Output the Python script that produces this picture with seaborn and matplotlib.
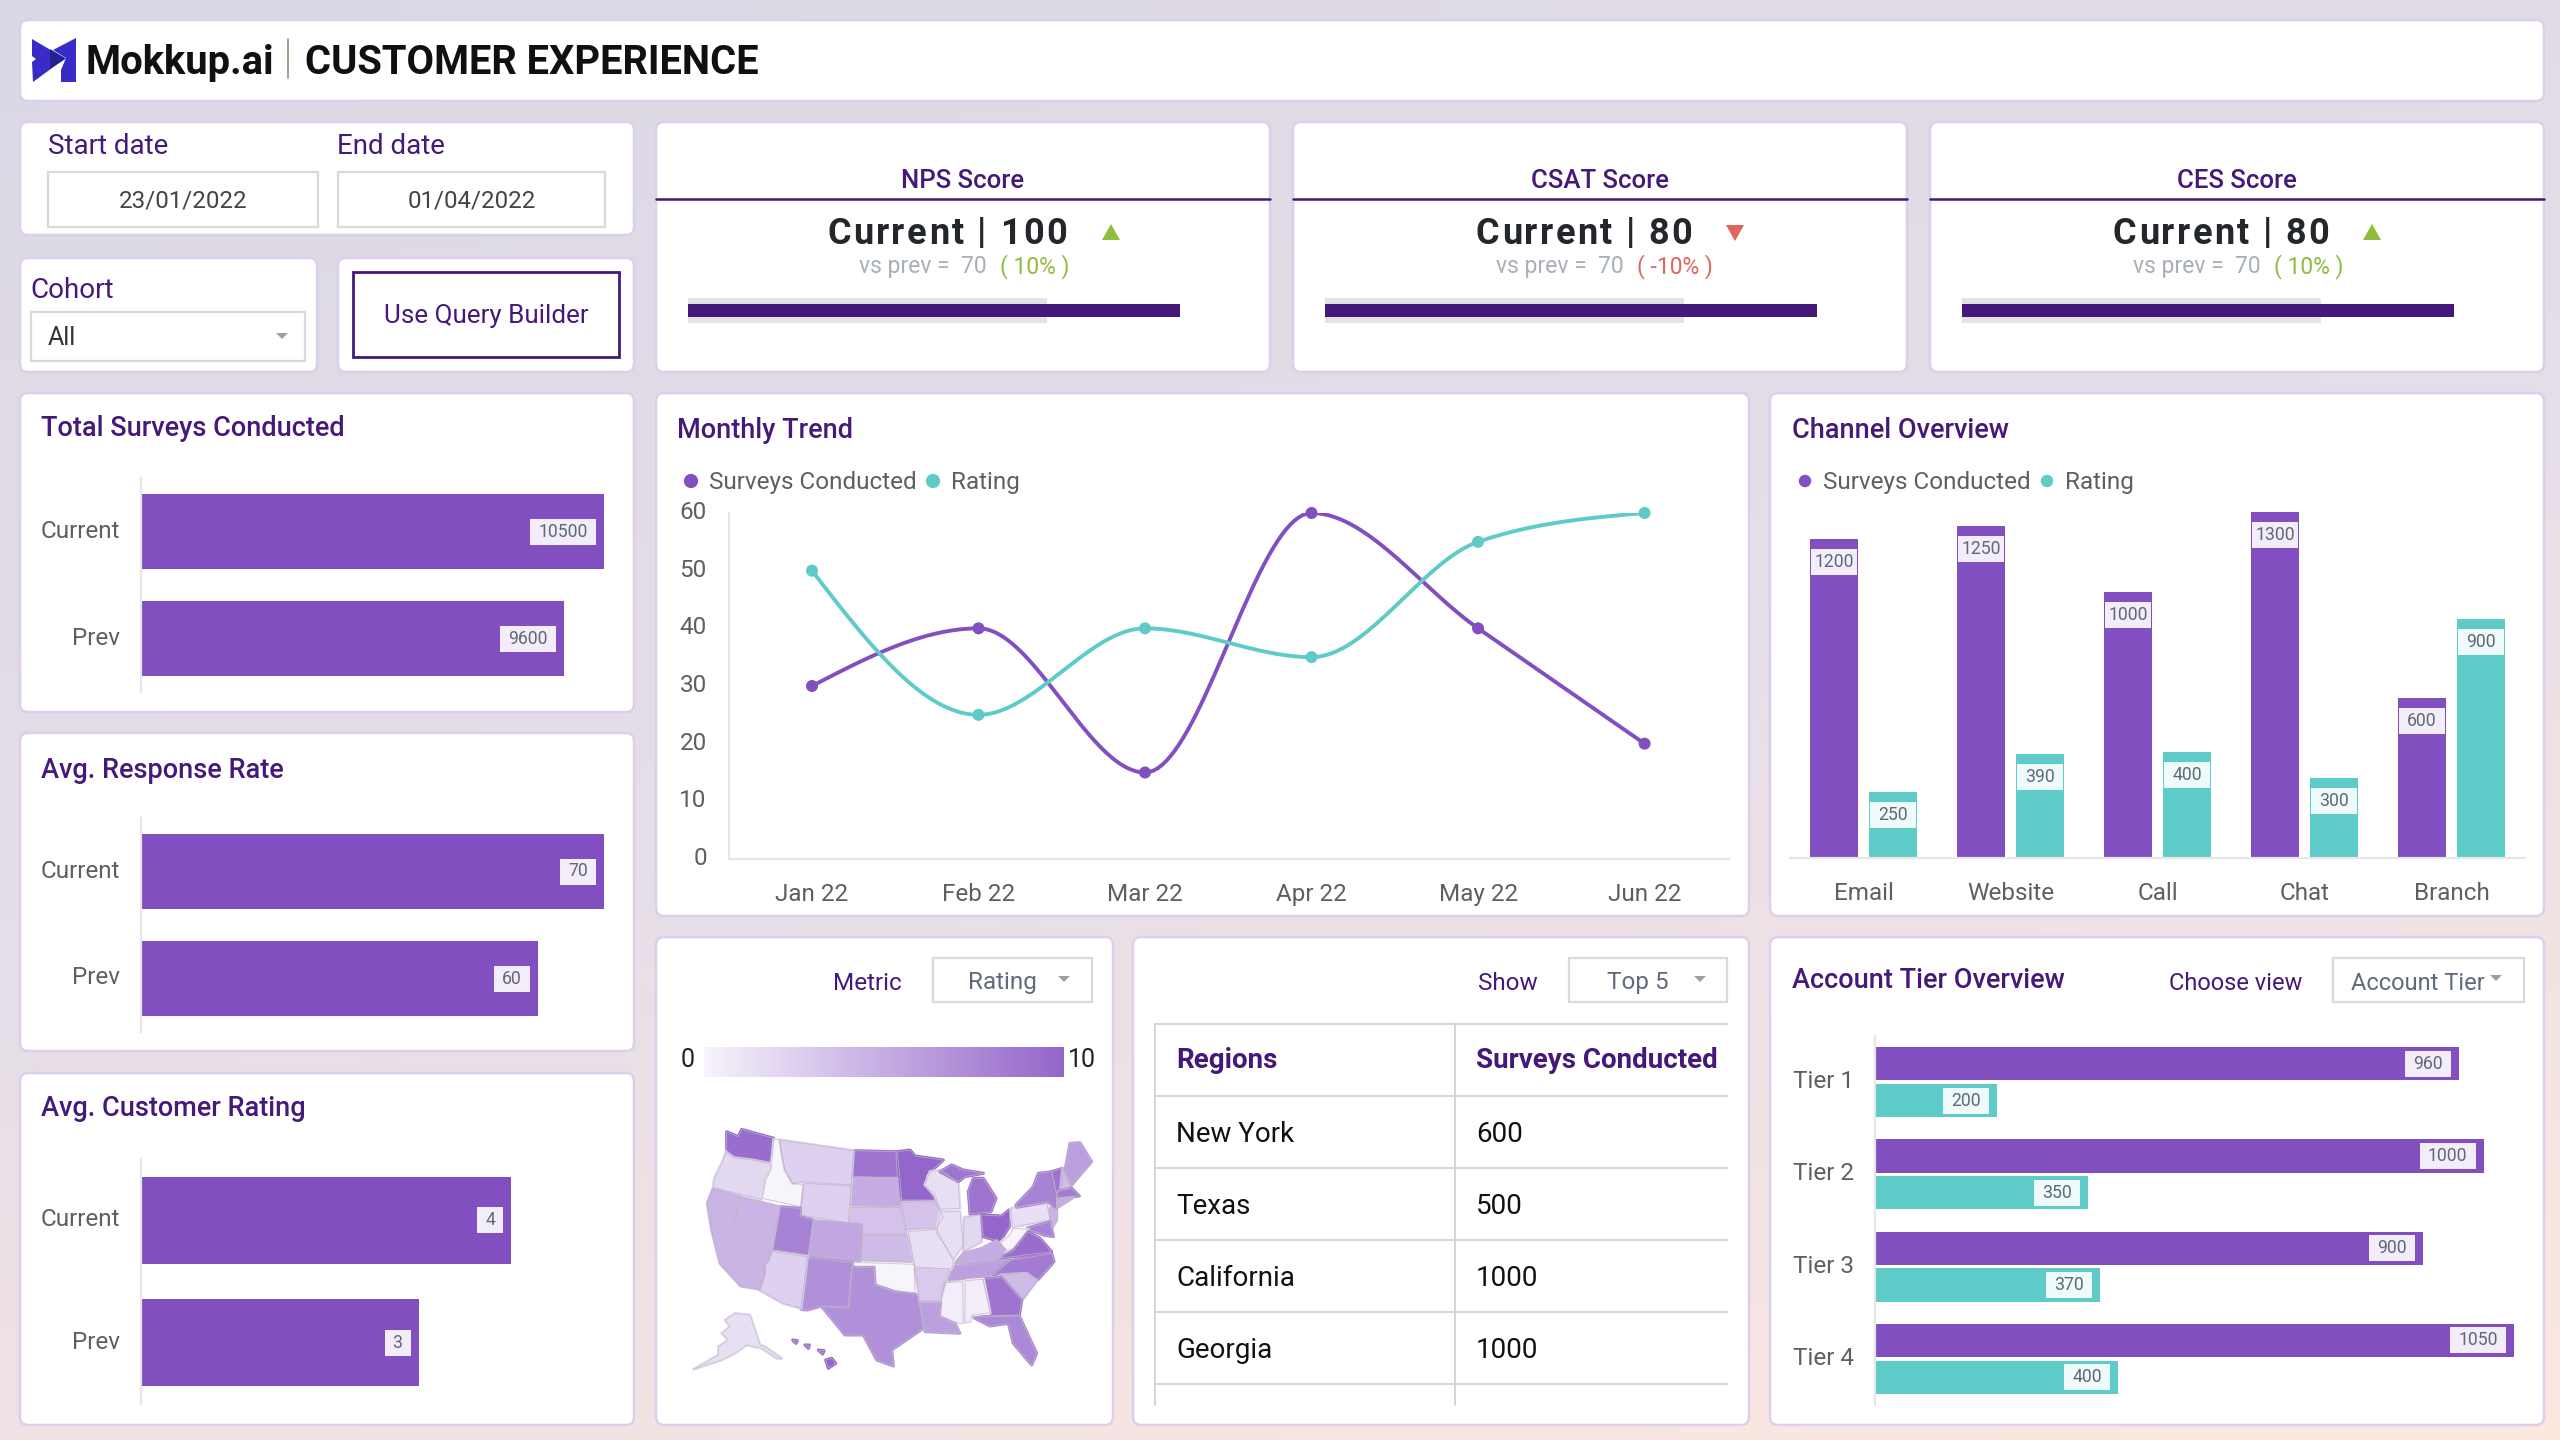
import numpy as np
import pandas as pd
import matplotlib
matplotlib.use("Agg")
import matplotlib.pyplot as plt
import seaborn as sns
from matplotlib.collections import PolyCollection
from matplotlib.colors import LinearSegmentedColormap, Normalize, to_hex
from matplotlib.patches import FancyBboxPatch, Polygon, Rectangle
from matplotlib.transforms import ScaledTranslation

# ---- data ----
months = ["Jan 22", "Feb 22", "Mar 22", "Apr 22", "May 22", "Jun 22"]
trend_surveys = [30, 40, 15, 60, 40, 20]
trend_rating = [50, 25, 40, 35, 55, 60]

channels = ["Email", "Website", "Call", "Chat", "Branch"]
channel_surveys = [1200, 1250, 1000, 1300, 600]
channel_rating = [250, 390, 400, 300, 900]

tiers = ["Tier 1", "Tier 2", "Tier 3", "Tier 4"]
tier_surveys = [960, 1000, 900, 1050]
tier_rating = [200, 350, 370, 400]

periods = ["Current", "Prev"]
total_surveys = [10500, 9600]
response_rate = [70, 60]
customer_rating = [4, 3]

kpi_names = ["NPS Score", "CSAT Score", "CES Score"]
kpi_current = [100, 80, 80]
kpi_prev = [70, 70, 70]
kpi_change = [10, -10, 10]
# bullet bars look the same on all three cards
gauge_current = [100, 100, 100]
gauge_prev = [73, 73, 73]

regions = ["New York", "Texas", "California", "Georgia"]
region_surveys = [600, 500, 1000, 1000]

state_rating = {
    "WA": 9.5, "OR": 2, "ID": 0, "MT": 2.5, "WY": 2.5, "ND": 9, "SD": 5, "NE": 3.5, "MN": 10,
    "IA": 3.5, "WI": 1.5, "IL": 1.5, "MO": 1.5, "KS": 4, "OK": 0, "TX": 7, "NM": 7, "CO": 5.5,
    "UT": 8, "AZ": 2.5, "NV": 4.5, "CA": 4.5, "AR": 3, "LA": 6, "MS": 0.5, "AL": 0.5, "TN": 6,
    "KY": 5, "GA": 9, "FL": 7.5, "SC": 4, "NC": 8.5, "VA": 9.5, "WV": 0, "OH": 10, "IN": 2,
    "MI": 9, "MI2": 9, "PA": 1.5, "NY": 8, "MD": 8, "NJ": 4.5, "VT": 9, "NH": 4, "ME": 6,
    "MA": 8.5, "CT": 5, "AK": 1.5, "HI": 10, "HI2": 10, "HI3": 10, "HI4": 10,
}

# rough state outlines on the map's own grid (0-1440 across, 0-1500 down)
west_origin = (60, 570)
west_shapes = {
    "WA": [(170, 35), (205, 50), (215, 28), (312, 55), (300, 128), (245, 118), (190, 112), (170, 92)],
    "OR": [(168, 95), (190, 113), (245, 120), (300, 130), (303, 145), (285, 175), (275, 238), (130, 203), (133, 175),
           (160, 120)],
    "ID": [(312, 58), (328, 58), (335, 110), (345, 150), (368, 190), (400, 195), (392, 260), (277, 235), (288, 178),
           (303, 148)],
    "MT": [(330, 60), (550, 92), (543, 195), (400, 185), (368, 190), (345, 150), (338, 112)],
    "WY": [(402, 190), (543, 198), (535, 308), (392, 285)],
    "UT": [(330, 260), (392, 265), (390, 290), (430, 300), (415, 405), (307, 388)],
    "CO": [(432, 302), (575, 315), (570, 422), (418, 408)],
    "NM": [(413, 413), (548, 428), (537, 560), (455, 558), (412, 570), (393, 568)],
    "AZ": [(305, 395), (412, 410), (393, 565), (340, 550), (268, 510), (285, 460), (280, 440)],
    "NV": [(212, 232), (328, 260), (305, 390), (295, 420), (280, 440), (192, 308)],
    "CA": [(128, 208), (210, 230), (192, 308), (285, 445), (280, 475), (268, 507), (212, 498), (150, 430), (125, 330),
           (112, 250)],
}
east_origin = (690, 570)
east_shapes = {
    "MN": [(52, 95), (90, 90), (105, 108), (190, 120), (140, 165), (135, 195), (165, 240), (65, 240), (60, 175)],
    "WI": [(150, 155), (185, 150), (235, 190), (240, 265), (180, 268), (165, 225), (135, 195)],
    "IA": [(65, 247), (165, 245), (190, 290), (170, 325), (78, 328)],
    "IL": [(180, 275), (240, 275), (250, 375), (220, 418), (195, 375), (170, 340)],
    "IN": [(252, 292), (302, 285), (305, 365), (250, 395)],
    "MI": [(265, 215), (280, 175), (310, 175), (348, 235), (333, 275), (270, 282)],
    "MI2": [(180, 155), (215, 135), (250, 150), (310, 160), (255, 170), (235, 185)],
    "OH": [(305, 285), (365, 288), (390, 268), (388, 320), (360, 365), (310, 350)],
    "PA": [(392, 265), (500, 247), (510, 300), (398, 322)],
    "NY": [(408, 255), (460, 200), (475, 160), (515, 155), (530, 230), (530, 270), (505, 245), (410, 262)],
    "VT": [(515, 155), (548, 145), (545, 200), (530, 220)],
    "NH": [(548, 145), (575, 195), (565, 205), (542, 205)],
    "ME": [(570, 70), (600, 68), (635, 125), (575, 195), (555, 150)],
    "MA": [(533, 213), (575, 205), (598, 228), (533, 235)],
    "CT": [(533, 237), (580, 232), (533, 262)],
    "NJ": [(510, 265), (530, 272), (530, 300), (515, 325)],
    "MD": [(440, 325), (510, 305), (520, 350), (490, 345)],
    "WV": [(362, 368), (390, 345), (400, 325), (445, 328), (400, 385), (375, 395)],
    "VA": [(358, 415), (400, 392), (445, 335), (480, 355), (515, 395)],
    "KY": [(225, 430), (250, 400), (305, 385), (350, 362), (375, 390), (350, 420)],
    "TN": [(220, 440), (390, 420), (335, 465), (205, 485)],
    "NC": [(340, 465), (390, 422), (515, 400), (522, 425), (475, 478), (440, 460), (365, 460)],
    "SC": [(362, 465), (440, 460), (470, 482), (428, 538)],
    "GA": [(308, 478), (365, 472), (425, 540), (418, 585), (335, 588)],
    "FL": [(275, 590), (418, 588), (470, 700), (455, 735), (400, 670), (385, 610), (330, 618)],
    "AL": [(255, 482), (310, 478), (330, 578), (275, 585), (272, 605), (255, 608)],
    "MS": [(190, 488), (248, 485), (250, 610), (225, 608), (178, 590)],
    "LA": [(120, 545), (182, 545), (178, 590), (225, 610), (240, 640), (135, 635)],
    "AR": [(105, 445), (207, 447), (180, 543), (120, 543)],
    "MO": [(85, 335), (170, 328), (195, 378), (220, 420), (215, 448), (105, 440)],
}
middle_shapes = {
    "ND": [(612, 662), (738, 665), (742, 745), (605, 738)],
    "SD": [(605, 745), (742, 745), (752, 812), (750, 832), (600, 825)],
    "NE": [(600, 832), (750, 832), (770, 912), (635, 912), (635, 885), (597, 878)],
    "KS": [(635, 917), (775, 917), (790, 997), (632, 992)],
    "OK": [(610, 997), (793, 1003), (795, 1088), (735, 1083), (675, 1065), (672, 1012), (610, 1008)],
    "TX": [(605, 1012), (672, 1012), (675, 1065), (735, 1085), (805, 1095), (820, 1195), (725, 1260), (730, 1308),
           (680, 1290), (640, 1215), (585, 1215), (515, 1130), (595, 1135)],
    "AK": [(225, 1170), (255, 1150), (300, 1155), (330, 1245), (345, 1250), (395, 1285), (380, 1285), (335, 1255),
           (290, 1245), (255, 1270), (215, 1290), (130, 1318), (205, 1275), (205, 1250), (235, 1230), (215, 1210),
           (240, 1190)],
    "HI": [(527, 1290), (545, 1285), (557, 1300), (535, 1315)],
    "HI2": [(465, 1245), (478, 1245), (475, 1255)],
    "HI3": [(428, 1230), (442, 1232), (438, 1240)],
    "HI4": [(505, 1260), (522, 1262), (518, 1272)],
}

# ---- styling ----
PURPLE = "#824fc1"
TEAL = "#5ecbc8"
DARK = "#45197a"
GREY_TEXT = "#5f5f5f"
TAG_TEXT = "#5f6878"
UP = "#8fbc3a"
DOWN = "#e0655a"
W, H = 2560, 1440

sns.set_theme(style="white")
plt.rcParams["font.family"] = ["Roboto", "DejaVu Sans"]
plt.rcParams["ytick.alignment"] = "center_baseline"

fig = plt.figure(figsize=(W / 100, H / 100), dpi=100)
renderer = fig.canvas.get_renderer()
# y tick labels sit about 3px higher on the source
ytick_nudge = ScaledTranslation(0, 3 / 100, fig.dpi_scale_trans)


def px_axes(x0, y0, x1, y1, zorder=2):
    ax = fig.add_axes([x0 / W, 1 - y1 / H, (x1 - x0) / W, (y1 - y0) / H], zorder=zorder)
    ax.patch.set_alpha(0)
    return ax


def nudge_yticks(ax):
    for lab in ax.get_yticklabels():
        lab.set_transform(lab.get_transform() + ytick_nudge)


# page background
bg = px_axes(0, 0, W, H, zorder=0)
bg_cmap = LinearSegmentedColormap.from_list("bg", ["#dbd8e5", "#e6dee8", "#fde8e0"])
gx, gy = np.meshgrid(np.linspace(0, 1, 64), np.linspace(0, 1, 64))
bg.imshow(0.3 * gx + 0.7 * gy, cmap=bg_cmap, aspect="auto", extent=(0, W, H, 0), vmin=0, vmax=1)
bg.axis("off")

# layer for cards and text under the charts
base = px_axes(0, 0, W, H, zorder=1)
base.set_xlim(0, W)
base.set_ylim(H, 0)
base.axis("off")

# layer for value tags above the charts
top = px_axes(0, 0, W, H, zorder=5)
top.set_xlim(0, W)
top.set_ylim(H, 0)
top.axis("off")


def card(x0, y0, x1, y1):
    base.add_patch(FancyBboxPatch((x0 + 7, y0 + 7), x1 - x0 - 14, y1 - y0 - 14,
                                  boxstyle="round,pad=7,rounding_size=8",
                                  fc="white", ec="#dccfee", lw=1.8))


def box(x0, y0, x1, y1, ec="#d9d9d9", lw=1.6):
    base.add_patch(Rectangle((x0, y0), x1 - x0, y1 - y0, fc="white", ec=ec, lw=lw))


def label(x, y, s, size=17.5, color=DARK, ha="left", weight="normal"):
    base.text(x, y + 2, s, fontsize=size, color=color, ha=ha, va="center", fontweight=weight)


def text_width(s, size, weight):
    t = base.text(0, 0, s + "x", fontsize=size, fontweight=weight)
    tx = base.text(0, 0, "x", fontsize=size, fontweight=weight)
    w = t.get_window_extent(renderer).width - tx.get_window_extent(renderer).width
    t.remove()
    tx.remove()
    return w


def spaced_label(cx, y, s, size, color, weight, spacing):
    # matplotlib has no letter spacing, so place the letters one at a time
    total = text_width(s, size, weight) + spacing * (len(s) - 1)
    left = cx - total / 2
    for i, ch in enumerate(s):
        if ch != " ":
            base.text(left + text_width(s[:i], size, weight) + spacing * i, y + 2, ch, fontsize=size, color=color,
                      ha="left", va="center_baseline", fontweight=weight)


def arrow(x, y, color="#9aa0a6"):
    base.add_patch(Polygon([(x - 6, y - 3), (x + 6, y - 3), (x, y + 3)], fc=color, ec="none"))


def dropdown(x0, x1, text, text_x, arrow_x):
    box(x0, 958, x1, 1002)
    label(text_x, 981, text, 17.5, "#5f6b7a", ha="center")
    arrow(arrow_x, 979)


def tag(x, y, s, w, fc):
    # x, y are the box centre in display pixels, taken from the axes' own scale
    px, py = x, H - y
    top.add_patch(Rectangle((px - w / 2, py - 13), w, 26, fc=fc, ec="none"))
    top.text(px, py, s, fontsize=12.7, color=TAG_TEXT, ha="center", va="center")


def hbar_tags(ax):
    # value tag sits inside the right end of each horizontal bar
    for cont in ax.containers:
        fc = "#effafa" if to_hex(cont[0].get_facecolor()) == TEAL else "#f2edf9"
        for bar in cont:
            val = bar.get_width()
            txt = f"{val:.0f}"
            w = 10 * len(txt) + 16
            px, py = ax.transData.transform((val, bar.get_y() + bar.get_height() / 2))
            tag(px - 8 - w / 2, py, txt, w, fc)


def style_hbars(ax, x_max):
    ax.set_xlim(0, x_max)
    ax.set_xlabel("")
    ax.set_ylabel("")
    ax.set_xticks([])
    sns.despine(ax=ax, top=True, right=True, bottom=True)
    ax.spines["left"].set_color("#e6e6e6")
    ax.spines["left"].set_linewidth(1.6)
    ax.tick_params(axis="y", length=0, pad=15, labelsize=17.5, labelcolor=GREY_TEXT)
    nudge_yticks(ax)


def metric_card(y0, y1, title, title_y, values, axis_x1, axis_y0, axis_y1, x_max):
    card(20, y0, 634, y1)
    label(41, title_y, title, 19.5, DARK, weight="medium")
    ax = px_axes(141, axis_y0, axis_x1, axis_y1)
    df = pd.DataFrame({"period": periods, "value": values})
    sns.barplot(data=df, y="period", x="value", orient="h", color=PURPLE, saturation=1,
                width=0.71, linewidth=0, ax=ax)
    style_hbars(ax, x_max)
    hbar_tags(ax)


def monotone_curve(ys, steps=40):
    # cubic with monotone tangents, same as the smooth line on the source chart
    ys = np.asarray(ys, dtype=float)
    d = np.diff(ys)
    m = np.zeros(len(ys))
    for i in range(1, len(ys) - 1):
        if d[i - 1] * d[i] > 0:
            m[i] = 2 * np.sign(d[i]) * min(abs(d[i - 1]), abs(d[i]), abs(d[i - 1] + d[i]) / 4)
    m[0] = (3 * d[0] - m[1]) / 2
    m[-1] = (3 * d[-1] - m[-2]) / 2
    xs, out = [], []
    for i in range(len(d)):
        t = np.linspace(0, 1, steps)
        h00 = 2 * t**3 - 3 * t**2 + 1
        h10 = t**3 - 2 * t**2 + t
        h01 = -2 * t**3 + 3 * t**2
        h11 = t**3 - t**2
        xs.extend(i + t)
        out.extend(h00 * ys[i] + h10 * m[i] + h01 * ys[i + 1] + h11 * m[i + 1])
    return xs, out


# ---- header ----
card(20, 20, 2544, 101)
base.add_patch(Polygon([(32, 39), (65, 58.5), (33, 82), (32, 62), (36, 59), (32, 56)], fc="#3a2bc8", ec="none"))
base.add_patch(Polygon([(76, 38), (76, 82), (61, 82), (61, 70), (66, 58), (53, 50)], fc="#3a2bc8", ec="none"))
base.add_patch(Polygon([(50, 49), (66, 58.5), (50, 69)], fc="#232090", ec="none"))
label(85, 61, "Mokkup.ai", 28.8, "#101010", weight="bold")
base.plot([288, 288], [39, 78], color="#a08a70", lw=1.2)
label(305, 61, "CUSTOMER EXPERIENCE", 28.7, "#101010", weight="bold")

# ---- date + filter cards ----
card(20, 122, 634, 235)
label(48, 144, "Start date", 20)
label(337, 144, "End date", 20)
box(48, 172, 318, 227)
box(338, 172, 605, 227)
label(183, 199, "23/01/2022", 17.4, "#444444", ha="center")
label(472, 199, "01/04/2022", 17.4, "#444444", ha="center")

card(20, 258, 317, 372)
card(338, 258, 634, 372)
label(30, 288, "Cohort", 20)
box(31, 312, 305, 361)
label(48, 336, "All", 18, "#333333")
arrow(282, 336)
box(353, 272, 619, 357, ec=DARK, lw=2)
label(486, 314, "Use Query Builder", 18.7, ha="center")

# ---- KPI cards ----
for i, left in enumerate([656, 1293, 1930]):
    card(left, 122, left + 614, 372)
    label(left + 307, 179, kpi_names[i], 18.5, ha="center", weight="medium")
    base.plot([left, left + 614], [199, 199], color=DARK, lw=1.8)
    spaced_label(left + 291, 227.5, f"Current | {kpi_current[i]}", 26, "#23272b", "bold", 2.3)
    col = UP if kpi_change[i] > 0 else DOWN
    tx = left + (455 if kpi_current[i] == 100 else 442)
    if kpi_change[i] > 0:
        base.add_patch(Polygon([(tx - 9, 240), (tx + 9, 240), (tx, 224)], fc=col, ec="none"))
    else:
        base.add_patch(Polygon([(tx - 9, 225), (tx + 9, 225), (tx, 241)], fc=col, ec="none"))
    label(left + 331, 265, f"vs prev =  {kpi_prev[i]}", 16.5, "#a9afb8", ha="right")
    label(left + 344, 265, f"( {kpi_change[i]}% )", 16.5, col)

    gauge = px_axes(left + 32, 298, left + 524, 323)
    sns.barplot(x=[gauge_prev[i]], y=["g"], orient="h", color="#e3e3e3", saturation=1, width=1, linewidth=0, ax=gauge)
    sns.barplot(x=[gauge_current[i]], y=["g"], orient="h", color=DARK, saturation=1, width=0.52, linewidth=0, ax=gauge)
    gauge.set_xlim(0, gauge_current[i])
    gauge.axis("off")

# ---- left metric cards ----
metric_card(393, 712, "Total Surveys Conducted", 426, total_surveys, 604, 478, 692, 10500)
metric_card(733, 1051, "Avg. Response Rate", 768, response_rate, 604, 818, 1032, 70)
metric_card(1073, 1425, "Avg. Customer Rating", 1107, customer_rating, 511, 1159, 1404, 4)

# ---- monthly trend ----
card(656, 393, 1749, 916)
label(677, 429, "Monthly Trend", 19.5, weight="medium")
top.scatter([691, 933], [481, 481], s=105, c=[PURPLE, TEAL], linewidths=0)
label(709, 480, "Surveys Conducted", 17.5, GREY_TEXT)
label(951, 480, "Rating", 17.5, GREY_TEXT)

trend_ax = px_axes(729, 513, 1729, 859)
rows = []
for name, vals in [("Surveys Conducted", trend_surveys), ("Rating", trend_rating)]:
    cx, cy = monotone_curve(vals)
    rows.append(pd.DataFrame({"x": cx, "y": cy, "series": name}))
curves = pd.concat(rows)
palette = {"Surveys Conducted": PURPLE, "Rating": TEAL}
sns.lineplot(data=curves, x="x", y="y", hue="series", palette=palette, estimator=None, sort=False,
             linewidth=2.8, legend=False, ax=trend_ax)
points = pd.DataFrame({"x": list(range(6)) * 2, "y": trend_surveys + trend_rating,
                       "series": ["Surveys Conducted"] * 6 + ["Rating"] * 6})
sns.scatterplot(data=points, x="x", y="y", hue="series", palette=palette, s=75, linewidth=0, legend=False,
                clip_on=False, zorder=4, ax=trend_ax)
trend_ax.set_xlim(-0.4985, 5.507)
trend_ax.set_ylim(0, 60)
trend_ax.set_xticks(range(6), months)
trend_ax.set_yticks(range(0, 61, 10))
trend_ax.set_xlabel("")
trend_ax.set_ylabel("")
trend_ax.tick_params(length=0, labelsize=17.5, labelcolor=GREY_TEXT)
trend_ax.tick_params(axis="x", pad=17.5)
trend_ax.tick_params(axis="y", pad=16)
nudge_yticks(trend_ax)
sns.despine(ax=trend_ax)
for side in ["left", "bottom"]:
    trend_ax.spines[side].set_color("#e6e6e6")
    trend_ax.spines[side].set_linewidth(1.6)

# ---- channel overview ----
card(1770, 393, 2544, 916)
label(1792, 429, "Channel Overview", 19.5, weight="medium")
top.scatter([1805, 2047], [481, 481], s=80, c=[PURPLE, TEAL], linewidths=0)
label(1823, 480, "Surveys Conducted", 17.5, GREY_TEXT)
label(2065, 480, "Rating", 17.5, GREY_TEXT)

channel_ax = px_axes(1790, 500, 2525, 858)
channel_df = pd.DataFrame({
    "channel": channels * 2,
    "value": channel_surveys + channel_rating,
    "series": ["Surveys Conducted"] * 5 + ["Rating"] * 5,
})
sns.barplot(data=channel_df, x="channel", y="value", hue="series", palette=palette, saturation=1, width=0.8,
            gap=0.175, linewidth=0, legend=False, ax=channel_ax)
channel_ax.set_ylim(0, 1346)
channel_ax.set_yticks([])
channel_ax.set_xlabel("")
channel_ax.set_ylabel("")
channel_ax.tick_params(length=0, pad=17.5, labelsize=17.5, labelcolor=GREY_TEXT)
sns.despine(ax=channel_ax, left=True)
channel_ax.spines["bottom"].set_color("#e6e6e6")
channel_ax.spines["bottom"].set_linewidth(1.6)
for cont, fc in zip(channel_ax.containers, ["#f2edf9", "#effafa"]):
    for bar in cont:
        mid = bar.get_x() + bar.get_width() / 2
        px, py = channel_ax.transData.transform((mid, bar.get_height()))
        pw = channel_ax.transData.transform((bar.get_width(), 0))[0] - channel_ax.transData.transform((0, 0))[0]
        tag(px, py - 23, f"{bar.get_height():.0f}", pw - 2, fc)

# ---- map ----
card(656, 937, 1113, 1425)
label(902, 981, "Metric", 17.5, ha="right")
dropdown(933, 1092, "Rating", 1002, 1064)
label(688, 1058, "0", 18, "#222222", ha="center")
label(1082, 1058, "10", 18, "#222222", ha="center")

map_cmap = LinearSegmentedColormap.from_list("rating", ["#f7f4fb", "#9466cb"])
map_norm = Normalize(0, 10)
bar_ax = px_axes(704, 1047, 1064, 1077)
bar_ax.imshow(np.linspace(0, 10, 256).reshape(1, -1), cmap=map_cmap, norm=map_norm, aspect="auto")
bar_ax.axis("off")

map_ax = px_axes(650, 930, 1130, 1430)
map_ax.set_xlim(0, 1440)
map_ax.set_ylim(1500, 0)
map_ax.axis("off")
state_shapes = dict(middle_shapes)
for shapes, (ox, oy) in [(west_shapes, west_origin), (east_shapes, east_origin)]:
    for key, verts in shapes.items():
        state_shapes[key] = [(x + ox, y + oy) for x, y in verts]
state_keys = list(state_shapes)
state_polys = [state_shapes[k] for k in state_keys]
state_vals = np.array([state_rating[k] for k in state_keys])
# first pass widens each state a little to close the small gaps between outlines
map_ax.add_collection(PolyCollection(state_polys, array=state_vals, cmap=map_cmap, norm=map_norm,
                                     edgecolors="face", linewidths=2.2))
map_ax.add_collection(PolyCollection(state_polys, facecolors="none", edgecolors="#bdb8c4", linewidths=0.6, alpha=0.8))

# ---- regions table ----
card(1133, 937, 1749, 1425)
label(1538, 981, "Show", 17.5, ha="right")
dropdown(1569, 1727, "Top 5", 1638, 1700)
row_lines = [1024, 1096, 1168, 1240, 1312, 1384]
for y in row_lines:
    base.plot([1155, 1727], [y, y], color="#d4d4d4", lw=1.4)
for x in [1155, 1455]:
    base.plot([x, x], [1024, 1405], color="#d4d4d4", lw=1.4)
label(1176, 1059, "Regions", 20, weight="bold")
label(1476, 1059, "Surveys Conducted", 20, weight="bold")
for i, (name, val) in enumerate(zip(regions, region_surveys)):
    y = (row_lines[i + 1] + row_lines[i + 2]) / 2
    label(1176, y, name, 20, "#111111")
    label(1476, y, str(val), 20, "#111111")

# ---- account tier ----
card(1770, 937, 2544, 1425)
label(1792, 979, "Account Tier Overview", 19.5, weight="medium")
label(2302, 981, "Choose view", 17, ha="right")
box(2333, 958, 2524, 1002)
label(2351, 981, "Account Tier", 17, "#5f6b7a")
arrow(2496, 978)

tier_ax = px_axes(1875, 1036, 2514, 1405)
tier_df = pd.DataFrame({
    "tier": tiers * 2,
    "value": tier_surveys + tier_rating,
    "series": ["Surveys Conducted"] * 4 + ["Rating"] * 4,
})
sns.barplot(data=tier_df, y="tier", x="value", hue="series", orient="h", palette=palette, saturation=1, width=0.8,
            gap=0.1, linewidth=0, legend=False, ax=tier_ax)
style_hbars(tier_ax, 1050)
hbar_tags(tier_ax)

fig.savefig("out.png", dpi=100)
